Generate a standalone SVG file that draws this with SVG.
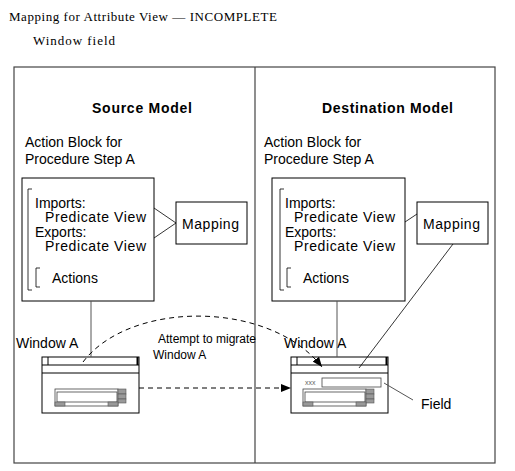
<svg xmlns="http://www.w3.org/2000/svg" width="515" height="471" viewBox="0 0 515 471">
<style>
.t{font-family:"Liberation Sans",Arial,sans-serif;font-size:14px;fill:#000}
.b{font-family:"Liberation Sans",Arial,sans-serif;font-size:14px;font-weight:bold;fill:#000}
.s{font-family:"Liberation Sans",Arial,sans-serif;font-size:12px;fill:#000}
.h{font-family:"Liberation Serif","Times New Roman",serif;font-size:13px;fill:#000}
.box{fill:#fff;stroke:#000;stroke-width:1}
.frame{fill:none;stroke:#444;stroke-width:1.2}
.ln{fill:none;stroke:#000;stroke-width:0.8}
.gl{fill:none;stroke:#555;stroke-width:1}
.dash{fill:none;stroke:#000;stroke-width:1;stroke-dasharray:5,4}
.grey{fill:#999;stroke:#555;stroke-width:0.6}
</style>
<defs>
<marker id="arr" markerWidth="10" markerHeight="8" refX="10" refY="4" orient="auto" markerUnits="userSpaceOnUse">
<path d="M0,0 L10,4 L0,8 Z" fill="#000"/>
</marker>
<g id="win">
<rect x="0" y="0" width="97" height="56" class="box" stroke="#333"/>
<line x1="0" y1="8" x2="97" y2="8" stroke="#000"/>
<line x1="0" y1="16" x2="97" y2="16" stroke="#000"/>
<line x1="6" y1="0" x2="6" y2="8" stroke="#000"/>
<line x1="95.5" y1="0" x2="95.5" y2="8" stroke="#000" stroke-width="2"/>
</g>
<g id="list">
<rect x="0" y="0" width="63" height="17" fill="#fff" stroke="#444" stroke-width="0.8"/>
<rect x="2" y="3" width="60" height="10" fill="#fff" stroke="#444" stroke-width="0.8"/>
<rect x="63" y="0" width="8" height="5" class="grey"/>
<rect x="63" y="5" width="8" height="5" class="grey"/>
<rect x="63" y="10" width="8" height="4" class="grey"/>
<rect x="0" y="13" width="10" height="4" class="grey"/>
<rect x="53" y="13" width="10" height="4" class="grey"/>
</g>
</defs>

<text class="h" x="9" y="21" textLength="268" lengthAdjust="spacing">Mapping for Attribute View — INCOMPLETE</text>
<text class="h" x="33" y="45" textLength="82" lengthAdjust="spacing">Window field</text>

<g id="frame">
<rect x="14" y="67" width="481" height="396" class="frame"/>
<line x1="255" y1="67" x2="255" y2="463" class="frame"/>
</g>

<g id="source">
<text class="b" x="92" y="113" textLength="100" lengthAdjust="spacing">Source Model</text>
<text class="t" x="25" y="147">Action Block for</text>
<text class="t" x="25" y="164">Procedure Step A</text>
</g>

<g id="destination">
<text class="b" x="322" y="113" textLength="131" lengthAdjust="spacing">Destination Model</text>
<text class="t" x="264" y="147">Action Block for</text>
<text class="t" x="264" y="164">Procedure Step A</text>
</g>

<g id="src-block">
<rect x="22" y="178" width="132" height="123" class="box"/>
<path d="M32,189 H28 V290 H32" class="ln"/>
<path d="M40,268 H36 V287 H40" class="ln"/>
<text class="t" x="35" y="208">Imports:</text>
<text class="t" x="45" y="222" textLength="101">Predicate View</text>
<text class="t" x="35" y="237">Exports:</text>
<text class="t" x="45" y="251" textLength="101">Predicate View</text>
<text class="t" x="52" y="283">Actions</text>
</g>

<g id="src-mapping">
<rect x="176" y="202" width="71" height="42" class="box"/>
<text class="t" x="182" y="229" textLength="57">Mapping</text>
</g>

<g id="dst-block">
<rect x="272" y="178" width="133" height="123" class="box"/>
<path d="M284,189 H280 V290 H284" class="ln"/>
<path d="M291,268 H287 V287 H291" class="ln"/>
<text class="t" x="285" y="208">Imports:</text>
<text class="t" x="294" y="222" textLength="101">Predicate View</text>
<text class="t" x="285" y="237">Exports:</text>
<text class="t" x="294" y="251" textLength="101">Predicate View</text>
<text class="t" x="303" y="283">Actions</text>
</g>

<g id="dst-mapping">
<rect x="417" y="202" width="71" height="42" class="box"/>
<text class="t" x="423" y="229" textLength="57">Mapping</text>
</g>

<g id="src-window">
<text class="t" x="16" y="348">Window A</text>
<use href="#win" x="42" y="357"/>
<use href="#list" x="55" y="389"/>
</g>

<g id="dst-window">
<text class="t" x="284" y="348">Window A</text>
<use href="#win" x="291" y="357"/>
<text x="305" y="385" font-family="Liberation Sans,Arial,sans-serif" font-size="7" fill="#666">xxx</text>
<rect x="322" y="378" width="59" height="9" fill="#fff" stroke="#444" stroke-width="0.8"/>
<use href="#list" x="303" y="389"/>
</g>

<g id="field-label">
<text class="t" x="421" y="409">Field</text>
</g>

<g id="connectors">
<line x1="154" y1="208" x2="176" y2="223" class="ln"/>
<line x1="154" y1="238" x2="176" y2="223" class="ln"/>
<line x1="405" y1="222" x2="417" y2="214" class="ln"/>
<line x1="453" y1="244" x2="359" y2="368" class="ln"/>
<line x1="91" y1="301" x2="91" y2="357" class="gl"/>
<line x1="337" y1="301" x2="337" y2="357" class="gl"/>
<line x1="384" y1="383" x2="413" y2="400" class="gl"/>
<path d="M83,362 C130,300 270,300 322,367" class="dash" marker-end="url(#arr)"/>
<line x1="139" y1="388" x2="291" y2="388" class="dash" marker-end="url(#arr)"/>
<text class="s" x="158" y="343">Attempt to migrate</text>
<text class="s" x="153" y="359">Window A</text>
</g>
</svg>
